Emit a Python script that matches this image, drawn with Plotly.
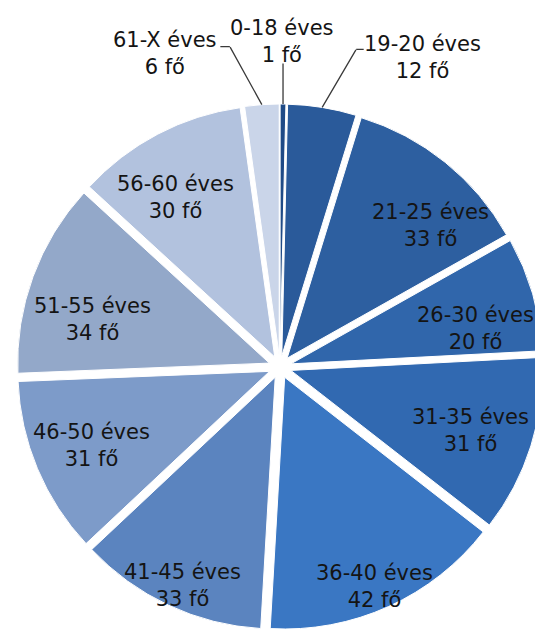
import math
import plotly.graph_objects as go

labels = ["0-18 éves", "19-20 éves", "21-25 éves", "26-30 éves", "31-35 éves",
          "36-40 éves", "41-45 éves", "46-50 éves", "51-55 éves", "56-60 éves", "61-X éves"]
values = [1, 12, 33, 20, 31, 42, 33, 31, 34, 30, 6]
unit = "fő"

colors = ["#1f4a86", "#2a5a9a", "#2d5fa0", "#3066ab", "#3169b1", "#3a77c3",
          "#5b84bf", "#7d9bc9", "#93a8c9", "#b2c2de", "#cad5e9"]

# label placement (style): radial fraction of pie radius and angular nudge (deg)
label_rfrac = [None, None, 0.82, 0.79, 0.80, 0.95, 0.95, 0.81, 0.77, 0.79, None]
label_nudge = [0, 0, 8, 5, 1, 1, -1, 0, -6, -4, 0]
# outside labels (style): text offset from slice rim, leader elbow offset, horizontal tail
outside_offset = {0: (-1, -63), 1: (100, -50), 10: (-97, -51)}
leader_elbow = {0: (0, -41), 1: (34, -58), 10: (-32, -58)}
leader_tail = {0: 0, 1: 8, 10: -10}

# the page body has an 8px margin, so the figure is drawn 8px in from the window edge
W, H = 535, 629
L, R, T, B = 9, 0, 96, 7
PULL = 0.045
FONT = dict(family="DejaVu Sans", size=21, color="#141414")
LINE_COLOR = "#3a3a3a"

fig = go.Figure(go.Pie(
    labels=labels,
    values=values,
    sort=False,
    direction="clockwise",
    rotation=0,
    pull=PULL,
    marker=dict(colors=colors, line=dict(color="white", width=1)),
    textinfo="none",
    showlegend=False,
    hoverinfo="label+value",
))

pw, ph = W - L - R, H - T - B
rad = min(pw, ph) / 2 / (1 + PULL)  # plotly pie radius in px


def to_paper(px, py):
    """pixel offset from the pie centre (y down) -> paper coordinates"""
    return 0.5 + px / pw, 0.5 - py / ph


total = sum(values)
cum = 0
anns = []
for i, (lab, v) in enumerate(zip(labels, values)):
    mid = (cum + v / 2) / total * 2 * math.pi
    cum += v
    text = f"{lab}<br>{v} {unit}"
    if label_rfrac[i] is None:
        dist = rad * (1 + PULL)
        rx, ry = dist * math.sin(mid), -dist * math.cos(mid)
        # leader: rim -> elbow
        ex, ey = leader_elbow[i]
        x, y = to_paper(rx, ry)
        anns.append(dict(x=x, y=y, xref="paper", yref="paper", text="",
                         showarrow=True, arrowhead=0, arrowwidth=1.3, arrowcolor=LINE_COLOR,
                         ax=ex, ay=ey, standoff=0, borderpad=0))
        # leader: elbow -> horizontal tail toward the text
        if leader_tail[i]:
            x2, y2 = to_paper(rx + ex, ry + ey)
            anns.append(dict(x=x2, y=y2, xref="paper", yref="paper", text="",
                             showarrow=True, arrowhead=0, arrowwidth=1.3, arrowcolor=LINE_COLOR,
                             ax=leader_tail[i], ay=0, standoff=0, borderpad=0))
        ox, oy = outside_offset[i]
        x3, y3 = to_paper(rx + ox, ry + oy)
        anns.append(dict(x=x3, y=y3, xref="paper", yref="paper", text=text,
                         showarrow=False, font=FONT, align="center",
                         xanchor="center", yanchor="middle"))
    else:
        ang = mid + math.radians(label_nudge[i])
        dist = rad * label_rfrac[i]
        x, y = to_paper(dist * math.sin(ang), -dist * math.cos(ang))
        anns.append(dict(x=x, y=y, xref="paper", yref="paper", text=text,
                         showarrow=False, font=FONT, align="center",
                         xanchor="center", yanchor="middle"))

fig.update_layout(
    width=W, height=H,
    margin=dict(l=L, r=R, t=T, b=B),
    paper_bgcolor="white",
    plot_bgcolor="white",
    annotations=anns,
)

fig.write_html("out.html")
